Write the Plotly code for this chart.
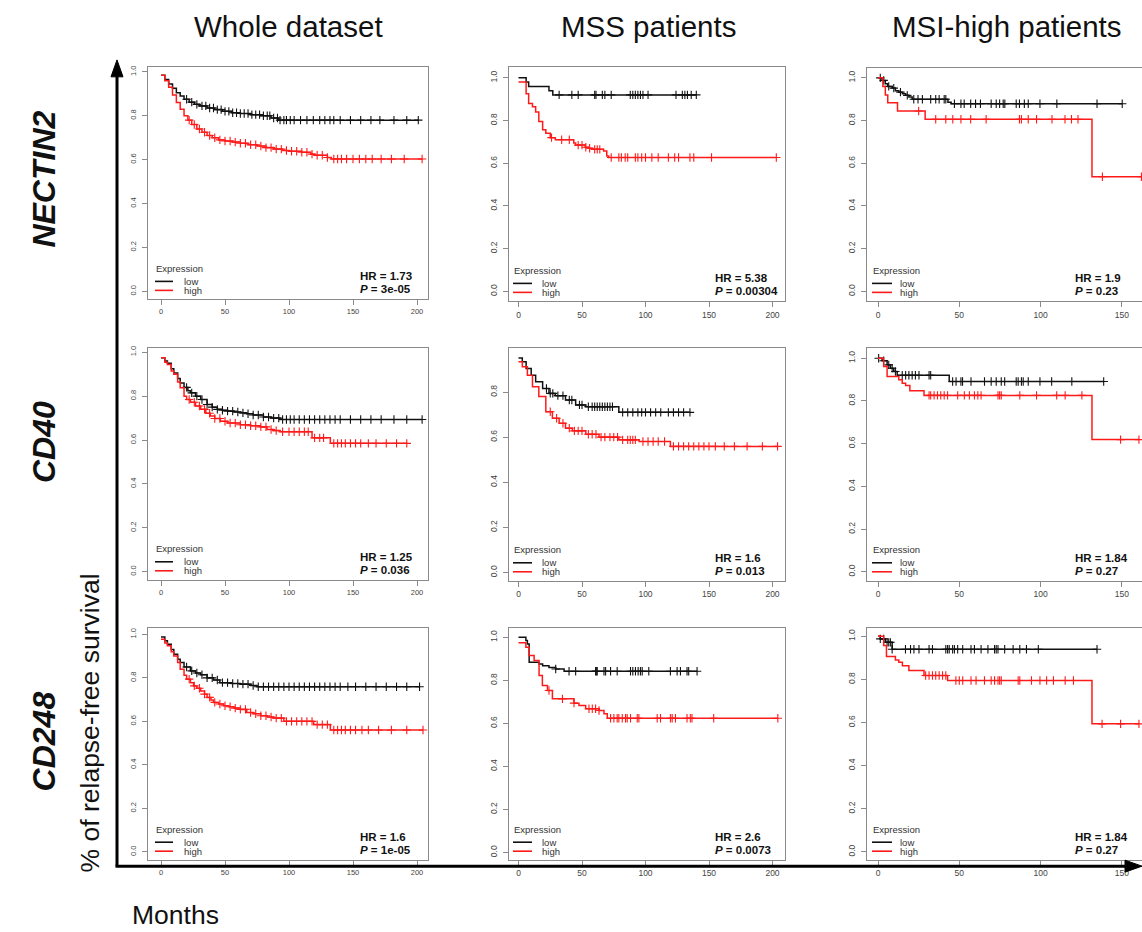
import bisect
import plotly.graph_objects as go

W, H = 1142, 932

# ---------------- text / labels ----------------
COLUMN_TITLES = ["Whole dataset", "MSS patients", "MSI-high patients"]
GENES = ["NECTIN2", "CD40", "CD248"]
X_TICKS = [0, 50, 100, 150, 200]
Y_TICKS = [0.0, 0.2, 0.4, 0.6, 0.8, 1.0]
Y_TICK_LABELS = ["0.0", "0.2", "0.4", "0.6", "0.8", "1.0"]
HR_LABELS = ["1.73", "5.38", "1.9", "1.25", "1.6", "1.84", "1.6", "2.6", "1.84"]
P_LABELS = ["3e-05", "0.00304", "0.23", "0.036", "0.013", "0.27", "1e-05", "0.0073", "0.27"]

# ---------------- Kaplan-Meier data (months, survival) ----------------
# NECTIN2 - whole dataset
A_LOW_T = [0, 3, 6, 9, 12, 15, 18, 22, 26, 30, 36, 42, 48, 55, 62, 70, 78, 86, 92]
A_LOW_S = [0.985, 0.965, 0.945, 0.925, 0.905, 0.89, 0.875, 0.862, 0.852, 0.845, 0.835, 0.828, 0.82, 0.814, 0.81, 0.805, 0.80, 0.79, 0.78]
A_LOW_C = [20, 24, 28, 32, 35, 38, 41, 44, 47, 50, 53, 56, 59, 62, 65, 68, 71, 74, 77, 80, 83, 85, 88, 91, 93, 96, 98, 101, 104, 109, 114, 119, 124, 128, 132, 135, 140, 148, 156, 164, 171, 182, 192, 201]
A_HIGH_T = [0, 3, 6, 9, 12, 15, 18, 21, 24, 28, 32, 36, 40, 45, 50, 56, 62, 68, 75, 82, 88, 95, 100, 110, 117, 120, 130, 133]
A_HIGH_S = [0.985, 0.96, 0.93, 0.895, 0.86, 0.83, 0.80, 0.78, 0.76, 0.74, 0.725, 0.71, 0.70, 0.69, 0.685, 0.68, 0.675, 0.668, 0.662, 0.655, 0.648, 0.642, 0.638, 0.634, 0.625, 0.62, 0.61, 0.603]
A_HIGH_C = [22, 26, 30, 34, 38, 42, 46, 50, 54, 58, 62, 66, 70, 74, 78, 82, 86, 90, 94, 98, 102, 106, 110, 114, 118, 122, 126, 130, 135, 138, 141, 145, 150, 155, 160, 165, 172, 180, 190, 204]

# NECTIN2 - MSS
B_LOW_T = [0, 6, 8, 24, 27]
B_LOW_S = [1.0, 0.98, 0.96, 0.94, 0.92]
B_LOW_C = [32, 42, 47, 60, 61, 66, 68, 73, 88, 90, 92, 94, 96, 98, 102, 124, 129, 131, 133, 136, 140]
B_HIGH_T = [0, 6, 8, 11, 13.5, 16, 19, 21.5, 25, 29, 43.5, 45, 52.5, 55, 58, 67, 69.5, 71]
B_HIGH_S = [0.98, 0.926, 0.88, 0.865, 0.84, 0.795, 0.757, 0.74, 0.72, 0.71, 0.695, 0.685, 0.675, 0.67, 0.665, 0.657, 0.634, 0.627]
B_HIGH_C = [26, 34, 40, 47, 50, 53, 56, 60, 62, 64, 73, 79, 81, 84, 86, 92, 94, 97, 100, 105, 110, 118, 123, 126, 135, 138, 152, 203]

# NECTIN2 - MSI-high
C_LOW_T = [0, 2.5, 4.5, 6, 8.7, 10.7, 12.8, 15, 17, 19, 21, 43, 45]
C_LOW_S = [1.0, 0.988, 0.972, 0.96, 0.952, 0.94, 0.933, 0.925, 0.918, 0.91, 0.90, 0.886, 0.879]
C_LOW_C = [1.4, 3.5, 6.6, 9.7, 13.8, 18, 22, 24.6, 27.3, 32.4, 35.5, 37.6, 40.7, 41.7, 47, 51, 53, 57, 60, 63, 69.6, 72.7, 74.8, 77, 78, 85, 87, 90, 92.4, 99.6, 110, 134.7, 150.2]
C_HIGH_T = [0, 3, 4.5, 6, 12, 29, 131.6]
C_HIGH_S = [1.0, 0.96, 0.92, 0.883, 0.845, 0.806, 0.537]
C_HIGH_C = [25, 35.5, 41.7, 46, 51, 57, 66.5, 87, 88.2, 92.4, 97.5, 107, 115, 119, 123, 138, 162]

# CD40 - whole dataset
D_LOW_T = [0, 3, 5, 8, 10, 13, 15, 18, 21, 23, 27, 31, 36, 40, 44, 48, 52, 57, 62, 67, 72, 80, 86, 93]
D_LOW_S = [0.975, 0.96, 0.95, 0.925, 0.906, 0.88, 0.86, 0.84, 0.825, 0.815, 0.80, 0.785, 0.762, 0.75, 0.74, 0.736, 0.732, 0.728, 0.724, 0.72, 0.714, 0.705, 0.70, 0.694]
D_LOW_C = [20, 24, 28, 32, 36, 40, 44, 48, 52, 56, 60, 64, 68, 72, 76, 80, 84, 88, 92, 95, 98, 101, 104, 108, 112, 116, 120, 124, 128, 132, 136, 140, 148, 156, 164, 172, 182, 192, 204]
D_HIGH_T = [0, 3, 5, 8, 10, 13, 15, 18, 20, 23, 27, 31, 35, 38.5, 42, 46.4, 52, 62, 70, 77.6, 82.8, 88, 93, 118, 132.3]
D_HIGH_S = [0.975, 0.955, 0.944, 0.915, 0.90, 0.865, 0.838, 0.80, 0.785, 0.772, 0.755, 0.74, 0.722, 0.71, 0.698, 0.686, 0.678, 0.67, 0.665, 0.66, 0.648, 0.643, 0.638, 0.61, 0.585]
D_HIGH_C = [22, 26, 30, 34, 38, 42, 46, 50, 54, 58, 62, 66, 70, 74, 78, 82, 86, 90, 95, 100, 104, 108, 112, 115, 120, 124, 127, 135, 138, 141, 144, 148, 152, 156, 162, 168, 176, 184, 192]

# CD40 - MSS
E_LOW_T = [0, 3, 6, 10, 13.5, 19, 24, 29, 37, 45, 53, 79]
E_LOW_S = [0.951, 0.934, 0.904, 0.875, 0.846, 0.816, 0.794, 0.784, 0.765, 0.743, 0.735, 0.71]
E_LOW_C = [22, 25, 27, 31, 35, 40, 42, 48, 50, 55, 58, 60, 62, 64, 66, 68, 70, 72, 74, 82, 86, 90, 94, 97, 100, 104, 108, 112, 118, 122, 126, 130, 135]
E_HIGH_T = [0, 3, 7, 11, 16, 21.5, 26.7, 32, 37, 42.4, 53, 63.4, 79, 95, 119.6]
E_HIGH_S = [0.934, 0.912, 0.875, 0.824, 0.78, 0.713, 0.684, 0.662, 0.64, 0.628, 0.613, 0.60, 0.588, 0.581, 0.559]
E_HIGH_C = [25, 30, 35, 40, 44, 47, 50, 55, 58, 61, 65, 68, 72, 75, 78, 82, 86, 88, 90, 92, 98, 102, 106, 110, 115, 122, 126, 130, 134, 138, 142, 146, 150, 155, 162, 170, 180, 192, 204]

# CD40 - MSI-high
F_LOW_T = [0, 2.5, 5.6, 7.6, 9.7, 11.8, 43.8]
F_LOW_S = [1.0, 0.988, 0.969, 0.953, 0.938, 0.92, 0.891]
F_LOW_C = [0.4, 3.5, 6.6, 8.7, 10.7, 14.9, 17, 19, 21, 23, 25.2, 31.4, 32.4, 45.9, 48, 51, 52, 57.2, 65.5, 69.6, 72.7, 75.8, 77.9, 85, 86.2, 88.2, 89.3, 92.4, 99.6, 106.8, 119.2, 138.8]
F_HIGH_T = [0, 3.5, 5.6, 12.8, 14.9, 17, 19.6, 28.3, 131.6]
F_HIGH_S = [1.0, 0.961, 0.914, 0.899, 0.883, 0.872, 0.848, 0.826, 0.619]
F_HIGH_C = [31.4, 32.4, 34.5, 36.6, 38.6, 40.7, 42.8, 49, 53.1, 56.2, 59.3, 61.4, 63.4, 73.8, 74.8, 75.8, 87.2, 97.5, 109.9, 115.1, 125.4, 149.2, 160.5]

# CD248 - whole dataset
G_LOW_T = [0, 3, 5, 8, 10, 13, 15, 18, 23, 27, 31, 36, 41, 46, 55, 62, 70, 75]
G_LOW_S = [0.988, 0.97, 0.954, 0.93, 0.908, 0.885, 0.87, 0.85, 0.832, 0.822, 0.814, 0.80, 0.79, 0.778, 0.774, 0.771, 0.765, 0.759]
G_LOW_C = [20, 24, 28, 32, 36, 40, 44, 48, 52, 56, 60, 64, 68, 72, 76, 80, 84, 88, 92, 96, 100, 104, 108, 112, 116, 120, 124, 128, 132, 136, 140, 146, 152, 160, 168, 176, 184, 192, 202]
G_HIGH_T = [0, 3, 5, 8, 10, 13, 15, 18, 20, 23, 25.5, 28, 31, 34, 36, 39, 41, 45, 49, 53, 57, 62, 67, 72, 78, 83, 88, 96, 119.3, 132.3]
G_HIGH_S = [0.977, 0.96, 0.947, 0.92, 0.90, 0.87, 0.84, 0.812, 0.794, 0.778, 0.763, 0.752, 0.74, 0.725, 0.71, 0.698, 0.687, 0.68, 0.672, 0.667, 0.661, 0.655, 0.641, 0.635, 0.626, 0.62, 0.615, 0.60, 0.585, 0.56]
G_HIGH_C = [22, 26, 30, 34, 38, 42, 46, 50, 54, 58, 62, 66, 70, 74, 78, 82, 86, 90, 94, 98, 102, 106, 110, 114, 118, 122, 126, 130, 135, 138, 141, 144, 148, 152, 157, 162, 170, 180, 192, 204.7]

# CD248 - MSS
H_LOW_T = [0, 5.8, 7, 8.4, 16.2, 19, 24, 29.3, 35.9]
H_LOW_S = [1.0, 0.985, 0.969, 0.884, 0.876, 0.868, 0.86, 0.853, 0.842]
H_LOW_C = [29.3, 39.8, 45, 60.7, 61.3, 62, 67.3, 68.6, 72.5, 77.7, 88.2, 90, 92.1, 94.2, 96, 97.4, 102.6, 119.6, 124.9, 127.5, 132.7, 134, 140.6]
H_HIGH_T = [0, 5.8, 8.4, 12.3, 16.2, 18.8, 22.8, 26.7, 43.7, 47.6, 52.9, 63.4, 67.3, 69.9]
H_HIGH_S = [0.975, 0.954, 0.915, 0.892, 0.822, 0.776, 0.753, 0.714, 0.694, 0.683, 0.668, 0.66, 0.645, 0.624]
H_HIGH_C = [24, 34.6, 43.7, 55.5, 58.1, 60.7, 63.4, 72.5, 75.1, 77.7, 79, 81.7, 84.3, 85.6, 88.2, 93.5, 94.8, 109.2, 111.8, 119.6, 121, 123.6, 132.7, 135.3, 136.6, 153.7, 204.2]

# CD248 - MSI-high
I_LOW_T = [0, 1.4, 4.5, 8.7]
I_LOW_S = [1.0, 0.988, 0.972, 0.94]
I_LOW_C = [1.4, 3.5, 5.6, 6.6, 7.6, 8.7, 16.9, 20, 22.1, 25.2, 31.4, 33.5, 41.7, 42.8, 43.8, 45.9, 47, 49, 52.1, 57.2, 59.3, 63.4, 67.6, 71.7, 72.7, 73.8, 77.9, 83.1, 87.2, 91.3, 98.6, 134.7]
I_HIGH_T = [0, 3.5, 5.2, 10.7, 12.8, 15, 19, 28.3, 42.8, 131.6]
I_HIGH_S = [1.0, 0.957, 0.906, 0.89, 0.88, 0.864, 0.841, 0.818, 0.795, 0.594]
I_HIGH_C = [29.3, 31.4, 33.5, 35.5, 37.6, 39.7, 41.7, 47.9, 50, 52.1, 57.2, 60.3, 65.5, 69.6, 71.7, 73.8, 74.8, 75.8, 86.2, 87.2, 94.4, 99.6, 103.7, 107.9, 115.1, 120.2, 137.8, 149.2, 160.5]

CURVES = [
    (A_LOW_T, A_LOW_S, A_LOW_C, A_HIGH_T, A_HIGH_S, A_HIGH_C),
    (B_LOW_T, B_LOW_S, B_LOW_C, B_HIGH_T, B_HIGH_S, B_HIGH_C),
    (C_LOW_T, C_LOW_S, C_LOW_C, C_HIGH_T, C_HIGH_S, C_HIGH_C),
    (D_LOW_T, D_LOW_S, D_LOW_C, D_HIGH_T, D_HIGH_S, D_HIGH_C),
    (E_LOW_T, E_LOW_S, E_LOW_C, E_HIGH_T, E_HIGH_S, E_HIGH_C),
    (F_LOW_T, F_LOW_S, F_LOW_C, F_HIGH_T, F_HIGH_S, F_HIGH_C),
    (G_LOW_T, G_LOW_S, G_LOW_C, G_HIGH_T, G_HIGH_S, G_HIGH_C),
    (H_LOW_T, H_LOW_S, H_LOW_C, H_HIGH_T, H_HIGH_S, H_HIGH_C),
    (I_LOW_T, I_LOW_S, I_LOW_C, I_HIGH_T, I_HIGH_S, I_HIGH_C),
]

# ---------------- layout geometry (pixels) ----------------
COLS = [
    dict(left=148, right=428, x0=161, ppm=1.28, tfont=7.5, leg=154, l0=155, l1=173, ltxt=182, hr=358),
    dict(left=509, right=785, x0=518.5, ppm=1.27, tfont=8.5, leg=512, l0=513, l1=532, ltxt=540, hr=713),
    dict(left=867, right=1164, x0=878, ppm=1.626, tfont=8.5, leg=871, l0=872, l1=892, ltxt=898, hr=1073),
]
# per panel: (box top, box bottom, pixel of S=0, pixels per survival unit)
ROWS = [
    [(65, 298, 290, 220), (65, 300, 290, 214), (66, 300, 290, 214)],
    [(347, 579, 571, 220), (347, 580, 571.7, 226), (347, 580, 571, 214)],
    [(627, 860, 851.7, 218), (627, 860, 852.3, 215.6), (627, 860, 851.7, 216)],
]

FONT = "Liberation Sans, Arial, Helvetica, sans-serif"
AX_COL = "#8a8a8a"
RED = "#ff1a1a"
BLACK = "#111111"


def px(x):
    return x / W


def py(y):
    return 1 - y / H


def surv_at(times, surv, t):
    i = bisect.bisect_right(times, t) - 1
    return surv[max(i, 0)]


fig = go.Figure()
shapes = []
annotations = []

for r in range(3):
    for c in range(3):
        k = r * 3 + c + 1
        col = COLS[c]
        top, bottom, s0, unit = ROWS[r][c]
        right = min(col["right"], W)
        xa = "xaxis" if k == 1 else f"xaxis{k}"
        ya = "yaxis" if k == 1 else f"yaxis{k}"
        xr = "x" if k == 1 else f"x{k}"
        yr = "y" if k == 1 else f"y{k}"

        fig.layout[xa] = dict(
            domain=[px(col["left"]), px(right)],
            range=[(col["left"] - col["x0"]) / col["ppm"], (right - col["x0"]) / col["ppm"]],
            anchor=yr, tickvals=X_TICKS, ticks="outside", ticklen=5, tickwidth=1,
            tickcolor=AX_COL, showline=True, linecolor=AX_COL, linewidth=1, mirror=True,
            showgrid=False, zeroline=False,
            tickfont=dict(family=FONT, size=col["tfont"], color="#444"),
        )
        fig.layout[ya] = dict(
            domain=[py(bottom), py(top)],
            range=[(s0 - bottom) / unit, (s0 - top) / unit],
            anchor=xr, tickvals=Y_TICKS, ticktext=Y_TICK_LABELS, tickangle=-90,
            ticks="outside", ticklen=5, tickwidth=1, tickcolor=AX_COL,
            showline=True, linecolor=AX_COL, linewidth=1, mirror=(c < 2),
            showgrid=False, zeroline=False, ticklabelstandoff=3,
            tickfont=dict(family=FONT, size=col["tfont"], color="#444"),
        )

        lt, ls, lc, ht, hs, hc = CURVES[k - 1]
        for times, surv, cens, color in ((lt, ls, lc, BLACK), (ht, hs, hc, RED)):
            end = max(cens[-1], times[-1])
            fig.add_trace(go.Scatter(
                x=list(times) + [end], y=list(surv) + [surv[-1]],
                mode="lines", line=dict(color=color, width=1.5, shape="hv"),
                xaxis=xr, yaxis=yr, showlegend=False, hoverinfo="skip",
            ))
            fig.add_trace(go.Scatter(
                x=cens, y=[surv_at(times, surv, t) for t in cens],
                mode="markers",
                marker=dict(symbol="cross-thin", size=6, color=color,
                            line=dict(color=color, width=1.1)),
                xaxis=xr, yaxis=yr, showlegend=False, hoverinfo="skip",
            ))

        # in-panel legend
        annotations.append(dict(x=px(col["leg"]), y=py(bottom - 31), xref="paper", yref="paper",
                                text="Expression", showarrow=False, xanchor="left", yanchor="middle",
                                font=dict(family=FONT, size=9.5, color="#333")))
        for dy, color, lab in ((18, BLACK, "low"), (9, RED, "high")):
            shapes.append(dict(type="line", xref="paper", yref="paper",
                               x0=px(col["l0"]), x1=px(col["l1"]), y0=py(bottom - dy), y1=py(bottom - dy),
                               line=dict(color=color, width=1.6)))
            annotations.append(dict(x=px(col["ltxt"]), y=py(bottom - dy), xref="paper", yref="paper",
                                    text=lab, showarrow=False, xanchor="left", yanchor="middle",
                                    font=dict(family=FONT, size=9.5, color="#333")))
        annotations.append(dict(x=px(col["hr"]), y=py(bottom - 23), xref="paper", yref="paper",
                                text=f"<b>HR = {HR_LABELS[k-1]}</b>", showarrow=False,
                                xanchor="left", yanchor="middle",
                                font=dict(family=FONT, size=11.5, color="#111")))
        annotations.append(dict(x=px(col["hr"]), y=py(bottom - 10), xref="paper", yref="paper",
                                text=f"<b><i>P</i> = {P_LABELS[k-1]}</b>", showarrow=False,
                                xanchor="left", yanchor="middle",
                                font=dict(family=FONT, size=11.5, color="#111")))

# column headers
for x, t in zip([288, 648, 1007], COLUMN_TITLES):
    annotations.append(dict(x=px(x), y=py(25), xref="paper", yref="paper", text=t,
                            showarrow=False, xanchor="center", yanchor="middle",
                            font=dict(family=FONT, size=29.5, color="#111")))

# gene labels
for y, g in zip([178, 441, 741], GENES):
    annotations.append(dict(x=px(44), y=py(y), xref="paper", yref="paper",
                            text=f"<b><i>{g}</i></b>", textangle=-90, showarrow=False,
                            xanchor="center", yanchor="middle",
                            font=dict(family=FONT, size=32, color="#111")))

# global axis labels
annotations.append(dict(x=px(90), y=py(722), xref="paper", yref="paper",
                        text="% of relapse-free survival", textangle=-90, showarrow=False,
                        xanchor="center", yanchor="middle",
                        font=dict(family=FONT, size=26.5, color="#111")))
annotations.append(dict(x=px(130), y=py(915), xref="paper", yref="paper",
                        text="Months", showarrow=False, xanchor="left", yanchor="middle",
                        font=dict(family=FONT, size=26.5, color="#111")))

# big axis arrows
shapes.append(dict(type="line", xref="paper", yref="paper", x0=px(117), x1=px(117),
                   y0=py(866), y1=py(72), line=dict(color="black", width=3)))
shapes.append(dict(type="path", xref="paper", yref="paper",
                   path=f"M {px(117)},{py(58)} L {px(111)},{py(75)} L {px(123)},{py(75)} Z",
                   fillcolor="black", line=dict(color="black", width=1)))
shapes.append(dict(type="line", xref="paper", yref="paper", x0=px(115.5), x1=px(1128),
                   y0=py(866), y1=py(866), line=dict(color="black", width=3)))
shapes.append(dict(type="path", xref="paper", yref="paper",
                   path=f"M {px(1142)},{py(866)} L {px(1125)},{py(860)} L {px(1125)},{py(872)} Z",
                   fillcolor="black", line=dict(color="black", width=1)))

fig.update_layout(
    width=W, height=H, margin=dict(l=0, r=0, t=0, b=0),
    paper_bgcolor="white", plot_bgcolor="white",
    shapes=shapes, annotations=annotations, showlegend=False,
)

fig.write_html("out.html")
